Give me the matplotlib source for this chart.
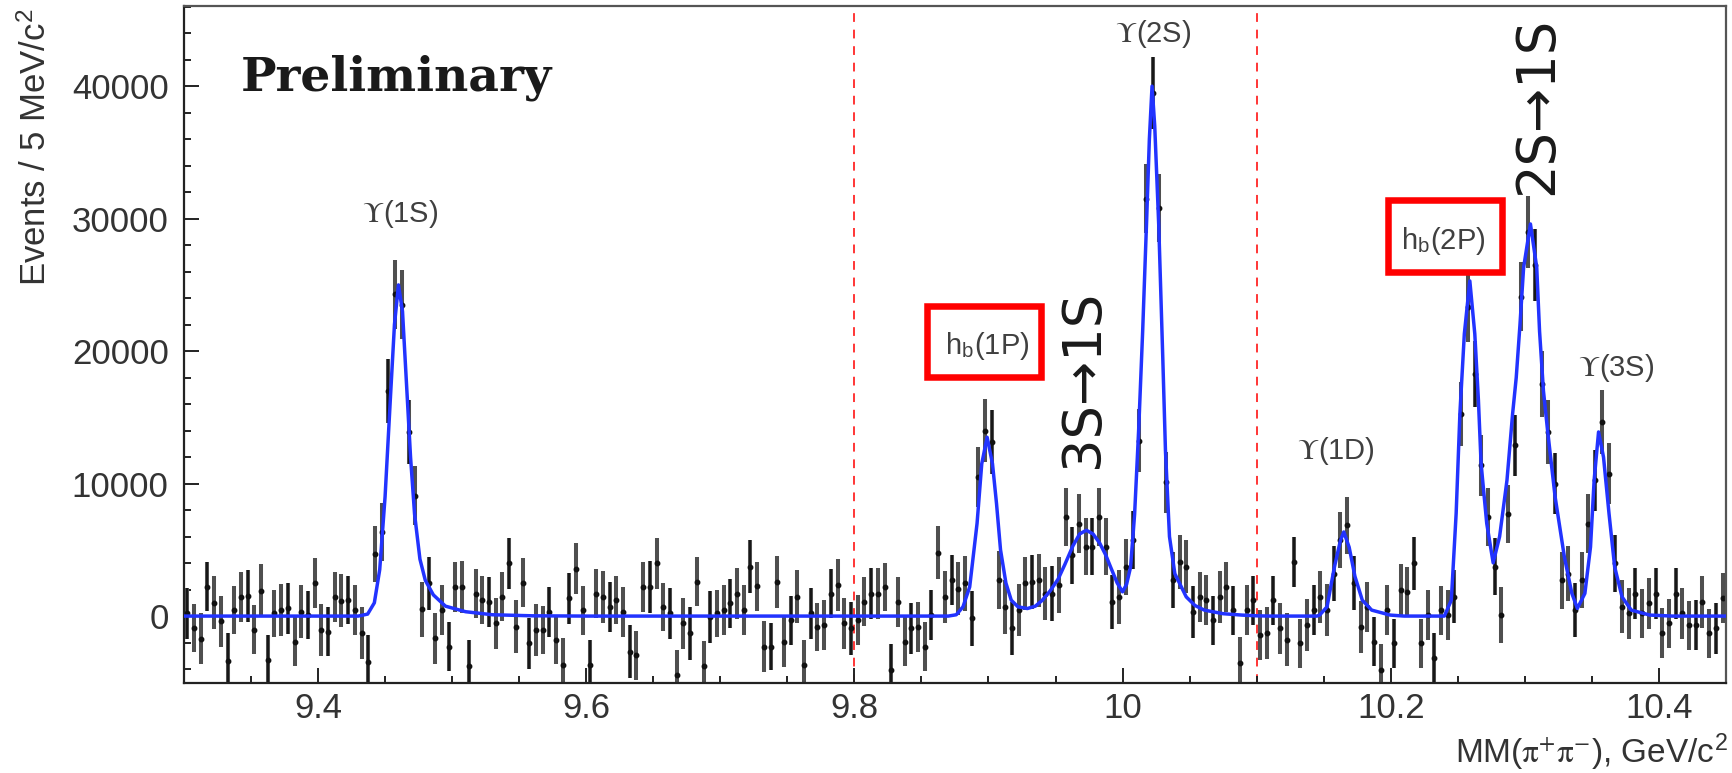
import numpy as np
import matplotlib
matplotlib.use('Agg')
import matplotlib.pyplot as plt
from matplotlib.patches import Rectangle
from matplotlib.ticker import MultipleLocator, FuncFormatter

plt.rcParams['font.family'] = ['Liberation Sans', 'DejaVu Sans']
plt.rcParams['mathtext.fontset'] = 'stix'

# 5 MeV bins over the missing-mass window
edges = np.linspace(9.30, 10.45, 231)
mass = 0.5 * (edges[:-1] + edges[1:])

# background-subtracted yields per bin
counts = [
    200, -900, -1700, 2200, 1000, -400, -3400, 450, 1450, 1500,
    -1050, 1900, -3350, 200, 450, 580, -1930, 330, 75, 2500,
    -1050, -1180, 1450, 1150, 1200, 450, -1300, -3440, 4700, 6350,
    17000, 24300, 23500, 13900, 9100, 500, 2460, -1680, 450, -2300,
    2200, 2200, -3800, 1700, 1200, 1080, -550, 1450, 3970, -800,
    2500, -2060, -1050, -1050, 330, -1800, -3690, 1330, 3590, 450,
    -3690, 1700, 1450, 700, 1200, 330, -2690, -2940, 2200, 2200,
    3970, 700, 200, -4440, -550, -1300, 2590, -3800, -50, 200,
    450, 950, 1700, 450, 3710, 2260, -2300, -2300, 2590, -1930,
    -300, 1450, -3690, 200, -800, -680, 1700, 2330, -550, -930,
    -300, 1080, 1700, 1700, 2200, -4070, 1080, -1930, -930, -800,
    -2300, 75, 4770, 1450, 2710, 2080, 2460, -175, 10500, 14000,
    13130, 2710, 700, -930, 450, 2460, 2590, 2710, 1700, 1700,
    2330, 7480, 4590, 6980, 5220, 5220, 7480, 5220, 1080, 1450,
    3710, 5720, 13250, 31500, 39500, 30800, 10100, 2710, 4090, 3710,
    330, 1450, 1200, -300, 1450, 2200, 450, -3560, 450, 1200,
    -1430, -1300, 1200, -930, -1800, 4090, -2060, -680, 450, 1450,
    450, 3210, 5720, 6850, 2500, -800, 700, -1930, -4070, 450,
    -2060, 1960, 1830, 3970, -2060, 75, -3190, 450, 75, 1450,
    15260, 23300, 18300, 11400, 7500, 3710, 75, 7730, 12900, 24100,
    29000, 26500, 17500, 13900, 9990, 2710, 3210, 450, 2710, 6980,
    10240, 14630, 10740, 4000, 700, 200, 1700, 200, 950, 1700,
    -1300, -550, 1700, 200, -680, -680, 1080, -1300, -930, 1350,
]

errors = [
    1900, 1800, 1950, 1850, 2000, 1900, 2100, 1800, 1900, 1950,
    1850, 2000, 1900, 1800, 1950, 1900, 1850, 2000, 1800, 1900,
    1950, 1850, 1900, 2000, 1800, 1900, 1950, 2000, 2100, 2200,
    2400, 2600, 2600, 2400, 2200, 2100, 2000, 1950, 1900, 1850,
    1900, 1950, 2000, 1850, 1800, 1900, 1950, 1850, 1900, 2000,
    1850, 1900, 1950, 1800, 1900, 1850, 2000, 1900, 1950, 1850,
    1900, 1850, 1950, 1900, 1800, 1900, 2000, 1850, 1900, 1950,
    1900, 1800, 1950, 1850, 1900, 2000, 1850, 1900, 1950, 1800,
    1900, 1850, 1950, 1900, 2000, 1850, 1900, 1800, 1950, 1900,
    1850, 2000, 1900, 1950, 1800, 1900, 1850, 1950, 1900, 2000,
    1900, 1850, 1950, 1900, 1800, 2000, 1900, 1850, 1950, 1900,
    1850, 1900, 2000, 1950, 1900, 2000, 2050, 2100, 2300, 2400,
    2400, 2200, 2050, 2000, 1950, 2000, 2050, 2000, 2000, 2050,
    2100, 2200, 2150, 2200, 2150, 2150, 2200, 2150, 2050, 2050,
    2100, 2200, 2400, 2600, 2700, 2600, 2300, 2100, 2050, 2000,
    1950, 1900, 1900, 1850, 1950, 1900, 1850, 2000, 1900, 1850,
    1900, 1950, 1850, 1900, 2000, 1900, 1850, 1950, 1900, 1950,
    1950, 2050, 2100, 2150, 2050, 1950, 1900, 1850, 2000, 1900,
    1850, 1950, 1900, 2000, 1850, 1900, 1950, 1850, 1900, 2000,
    2400, 2600, 2500, 2300, 2200, 2150, 2100, 2200, 2300, 2600,
    2700, 2700, 2500, 2400, 2300, 2150, 2100, 2050, 2100, 2200,
    2300, 2400, 2300, 2150, 2000, 1950, 1900, 1850, 1900, 1950,
    1900, 1850, 1950, 1900, 1850, 1900, 1950, 1850, 1900, 1900,
]

# fitted line shape
fit_x = [
    9.300, 9.430, 9.437, 9.442, 9.446, 9.450, 9.454, 9.457, 9.460, 9.463,
    9.466, 9.469, 9.472, 9.476, 9.480, 9.486, 9.495, 9.510, 9.530, 9.560,
    9.600, 9.870, 9.876, 9.881, 9.886, 9.8915, 9.895, 9.899, 9.903, 9.906,
    9.909, 9.913, 9.917, 9.922, 9.929, 9.935, 9.940, 9.946, 9.952, 9.957,
    9.963, 9.968, 9.973, 9.978, 9.983, 9.9875, 9.9915, 9.996, 10.000, 10.003,
    10.006, 10.009, 10.012, 10.015, 10.018, 10.020, 10.022, 10.024, 10.027, 10.030,
    10.032, 10.035, 10.039, 10.0475, 10.054, 10.061, 10.075, 10.089, 10.100, 10.110,
    10.145, 10.147, 10.1525, 10.158, 10.1625, 10.165, 10.169, 10.1733, 10.1788, 10.1858,
    10.1996, 10.210, 10.240, 10.2452, 10.2488, 10.2516, 10.2549, 10.259, 10.2627, 10.2654,
    10.2674, 10.2716, 10.2764, 10.2812, 10.2867, 10.2909, 10.2936, 10.2964, 10.2991, 10.3042,
    10.3089, 10.311, 10.3139, 10.317, 10.3226, 10.3295, 10.3351, 10.3392, 10.3448, 10.349,
    10.3517, 10.355, 10.3587, 10.3628, 10.367, 10.3725, 10.3794, 10.3932, 10.410, 10.450,
]
fit_y = [
    0, 0, 150, 1000, 3500, 9000, 16500, 22000, 25000, 23000,
    17500, 12000, 7700, 4300, 2700, 1600, 750, 330, 100, 20,
    0, 0, 100, 700, 2200, 7000, 11500, 13500, 11500, 8500,
    5000, 2500, 1200, 700, 570, 750, 1180, 1900, 2800, 3900,
    5300, 6200, 6480, 6200, 5500, 4600, 3600, 2500, 1830, 2400,
    3700, 7700, 14000, 21500, 30000, 36000, 40000, 37000, 29500, 19500,
    12500, 6000, 3200, 1450, 800, 450, 180, 75, 20, 0,
    0, 75, 700, 3700, 5700, 6350, 5200, 3000, 1200, 450,
    75, 0, 0, 1200, 7760, 15300, 21300, 25300, 21300, 16300,
    11500, 7000, 4020, 6000, 10250, 15270, 18000, 22000, 26300, 29600,
    26300, 21500, 17000, 14000, 9000, 4470, 1710, 580, 1710, 5220,
    10250, 13900, 12000, 7740, 3720, 1450, 450, 75, 0, 0,
]

fig = plt.figure(figsize=(17.32, 7.73), dpi=100)
ax = fig.add_axes([0.1062, 0.1168, 0.8903, 0.8754])

# points: grey bars, every third one drawn sharper in black
ax.errorbar(mass, counts, yerr=errors, fmt='none', ecolor='#4f4f4f',
            elinewidth=2.9, capsize=0, zorder=2)
ax.errorbar(mass[::3], counts[::3], yerr=errors[::3], fmt='none',
            ecolor='#111111', elinewidth=1.3, capsize=0, zorder=2)
ax.plot(mass, counts, 'o', ms=3.2, color='#111111', zorder=2)

ax.plot(fit_x, fit_y, color='#2233ff', lw=2.5, zorder=3)

for xv in [9.8, 10.1]:
    ax.axvline(xv, color='#ff3535', lw=1.4, ls=(0, (4.5, 4)), zorder=1)

ax.set_xlim(9.3, 10.45)
ax.set_ylim(-5030, 46050)

ax.xaxis.set_major_locator(MultipleLocator(0.2))
ax.xaxis.set_minor_locator(MultipleLocator(0.05))
ax.yaxis.set_major_locator(MultipleLocator(10000))
ax.yaxis.set_minor_locator(MultipleLocator(2000))
ax.xaxis.set_major_formatter(FuncFormatter(lambda v, p: '%g' % round(v, 3)))
ax.yaxis.set_major_formatter(FuncFormatter(lambda v, p: '%d' % v))

ax.tick_params(which='both', direction='in', top=False, right=False,
               labelsize=25, labelcolor='#333333', color='#222222')
ax.tick_params(which='major', length=10.5, width=1.4)
ax.tick_params(which='minor', length=5.2, width=1.4)
ax.tick_params(axis='x', pad=7)
ax.tick_params(axis='y', pad=11)
for sp in ax.spines.values():
    sp.set_linewidth(1.6)
    sp.set_color('#222222')
ax.spines['top'].set_color('#555555')
ax.spines['right'].set_color('#555555')

ax.text(-0.096, 0.792, r'Events / 5 MeV/c$^\mathregular{2}$', transform=ax.transAxes,
        rotation=90, ha='center', va='center', fontsize=25, color='#333333')
ax.text(1.0013, -0.117, r'MM($\mathrm{\pi}^{+}\mathrm{\pi}^{-}$), GeV/c$^\mathregular{2}$',
        transform=ax.transAxes, ha='right', va='baseline', fontsize=24, color='#333333')

ax.text(9.3425, 39640, 'Preliminary', family='DejaVu Serif', weight='bold',
        fontsize=34, color='#1a1a1a', ha='left', va='baseline')

lab = dict(ha='center', va='center', fontsize=21, color='#404040')
ax.text(9.461, 30370, r'$\Upsilon$(1S)', **lab)
ax.text(10.0228, 43970, r'$\Upsilon$(2S)', **lab)
ax.text(10.159, 12430, r'$\Upsilon$(1D)', **lab)
ax.text(10.3683, 18690, r'$\Upsilon$(3S)', **lab)
ax.text(9.8988, 20420, r'h$_\mathregular{b}$(1P)', **lab)
ax.text(10.2389, 28330, r'h$_\mathregular{b}$(2P)', **lab)

ax.add_patch(Rectangle((9.8541, 18030), 0.0851, 5410, fill=False,
                       ec='#ff0000', lw=4.7, zorder=4))
ax.add_patch(Rectangle((10.1979, 25945), 0.0850, 5460, fill=False,
                       ec='#ff0000', lw=4.7, zorder=4))

trans = dict(family='DejaVu Sans', fontsize=38, rotation=90,
             ha='center', va='center', color='#1a1a1a')
ax.text(9.9706, 17935, '3S\u21921S', **trans)
ax.text(10.309, 38500, '2S\u21921S', **trans)

fig.savefig('out.png', dpi=100)
